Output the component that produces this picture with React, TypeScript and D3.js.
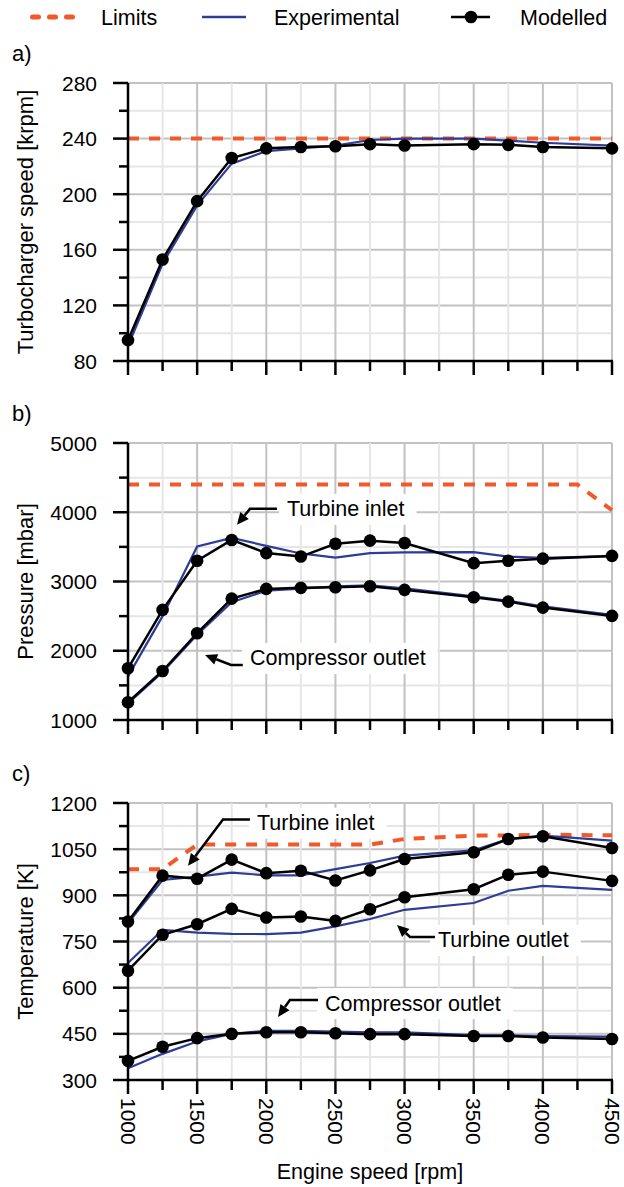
import React from 'react';
import * as d3 from 'd3';

// ---------- DATA ----------
const rpm = [1000, 1250, 1500, 1750, 2000, 2250, 2500, 2750, 3000, 3500, 3750, 4000, 4500];

// a) Turbocharger speed [krpm]
const turboModelled = [95, 153, 195, 226, 233, 234, 234.5, 236, 235, 236, 235.5, 234, 233];
const turboExperimental = [91, 150, 192, 222, 231, 233, 235, 239, 240, 240, 238.5, 237, 235];
const turboLimitRpm = [1000, 4500];
const turboLimit = [240, 240];

// b) Pressure [mbar]
const pTurbineInletModelled = [1747, 2590, 3300, 3600, 3410, 3360, 3545, 3590, 3555, 3265, 3300, 3330, 3370];
const pTurbineInletExperimental = [1630, 2500, 3505, 3630, 3515, 3405, 3345, 3410, 3420, 3425, 3360, 3340, 3365];
const pCompressorOutletModelled = [1256, 1708, 2253, 2753, 2893, 2908, 2918, 2932, 2879, 2773, 2710, 2623, 2503];
const pCompressorOutletExperimental = [1240, 1690, 2230, 2700, 2868, 2895, 2930, 2945, 2900, 2785, 2720, 2640, 2520];
const pLimitRpm = [1000, 4250, 4500];
const pLimit = [4400, 4400, 4030];

// c) Temperature [K]
const tTurbineInletModelled = [815, 964, 954, 1016, 972, 980, 948, 981, 1018, 1040, 1083, 1092, 1054];
const tTurbineInletExperimental = [810, 950, 961, 974, 965, 965, 985, 1005, 1029, 1046, 1083, 1094, 1078];
const tTurbineOutletModelled = [655, 772, 806, 856, 828, 831, 817, 855, 894, 920, 967, 977, 947];
const tTurbineOutletExperimental = [680, 788, 779, 775, 774, 779, 799, 823, 853, 875, 915, 931, 918];
const tCompressorOutletModelled = [362, 408, 436, 450, 455, 455, 452, 449, 449, 443, 443, 438, 433];
const tCompressorOutletExperimental = [338, 385, 425, 450, 460, 460, 457, 455, 455, 446, 445, 443, 441];
const tLimitRpm = [1000, 1250, 1500, 1750, 2000, 2250, 2500, 2750, 3000, 3500, 3750, 4000, 4500];
const tLimit = [985, 985, 1065, 1065, 1065, 1065, 1065, 1065, 1083, 1094, 1094, 1097, 1095];

const xTickValues = [1000, 1250, 1500, 1750, 2000, 2250, 2500, 2750, 3000, 3250, 3500, 3750, 4000, 4250, 4500];
const xTickLabels = ['1000', '1500', '2000', '2500', '3000', '3500', '4000', '4500'];

const legendLabels = ['Limits', 'Experimental', 'Modelled'];

// ---------- STYLE ----------
const W = 624;
const H = 1187;
const FONT = '"Liberation Sans", Arial, Helvetica, sans-serif';
const ORANGE = '#f2592a';
const BLUE = '#2f3c96';
const BLACK = '#000';
const GRID_DARK = '#c2c2c2';
const GRID_LIGHT = '#e6e6e6';

const X_LEFT = 128;
const X_RIGHT = 612;
const x = d3.scaleLinear().domain([1000, 4500]).range([X_LEFT, X_RIGHT]);

type Line = { xs: number[]; ys: number[]; kind: 'limit' | 'exp' | 'mod' };
type Annot = { label: string; text: [number, number]; arrow: [number, number][] };
type Panel = {
  label: string;
  title: string;
  top: number;
  bottom: number;
  domain: [number, number];
  major: number;
  lines: Line[];
  annots: Annot[];
  xLabels: boolean;
};

const panels: Panel[] = [
  {
    label: 'a)',
    title: 'Turbocharger speed [krpm]',
    top: 83,
    bottom: 361,
    domain: [80, 280],
    major: 40,
    lines: [
      { xs: turboLimitRpm, ys: turboLimit, kind: 'limit' },
      { xs: rpm, ys: turboExperimental, kind: 'exp' },
      { xs: rpm, ys: turboModelled, kind: 'mod' },
    ],
    annots: [],
    xLabels: false,
  },
  {
    label: 'b)',
    title: 'Pressure [mbar]',
    top: 443,
    bottom: 720,
    domain: [1000, 5000],
    major: 1000,
    lines: [
      { xs: pLimitRpm, ys: pLimit, kind: 'limit' },
      { xs: rpm, ys: pTurbineInletExperimental, kind: 'exp' },
      { xs: rpm, ys: pCompressorOutletExperimental, kind: 'exp' },
      { xs: rpm, ys: pTurbineInletModelled, kind: 'mod' },
      { xs: rpm, ys: pCompressorOutletModelled, kind: 'mod' },
    ],
    annots: [
      { label: 'Turbine inlet', text: [2150, 4049], arrow: [[2077, 4049], [1882, 4049], [1788, 3818]] },
      { label: 'Compressor outlet', text: [1882, 1896], arrow: [[1830, 1795], [1745, 1795], [1557, 1939]] },
    ],
    xLabels: false,
  },
  {
    label: 'c)',
    title: 'Temperature [K]',
    top: 803,
    bottom: 1080,
    domain: [300, 1200],
    major: 150,
    lines: [
      { xs: tLimitRpm, ys: tLimit, kind: 'limit' },
      { xs: rpm, ys: tTurbineInletExperimental, kind: 'exp' },
      { xs: rpm, ys: tTurbineOutletExperimental, kind: 'exp' },
      { xs: rpm, ys: tCompressorOutletExperimental, kind: 'exp' },
      { xs: rpm, ys: tTurbineInletModelled, kind: 'mod' },
      { xs: rpm, ys: tTurbineOutletModelled, kind: 'mod' },
      { xs: rpm, ys: tCompressorOutletModelled, kind: 'mod' },
    ],
    annots: [
      { label: 'Turbine inlet', text: [1933, 1136], arrow: [[1882, 1146], [1687, 1146], [1434, 996]] },
      { label: 'Turbine outlet', text: [3242, 755], arrow: [[3220, 765], [3039, 765], [2945, 804]] },
      { label: 'Compressor outlet', text: [2425, 550], arrow: [[2374, 560], [2171, 560], [2085, 505]] },
    ],
    xLabels: true,
  },
];

let measureCtx: CanvasRenderingContext2D | null = null;
function textWidth(s: string, size: number) {
  if (!measureCtx) {
    const c = document.createElement('canvas');
    measureCtx = c.getContext('2d');
  }
  if (!measureCtx) return s.length * size * 0.55;
  measureCtx.font = `${size}px "Liberation Sans", Arial, sans-serif`;
  return measureCtx.measureText(s).width;
}

function styleFor(kind: Line['kind']) {
  if (kind === 'limit') return { stroke: ORANGE, strokeWidth: 4, strokeDasharray: '11 10' };
  if (kind === 'exp') return { stroke: BLUE, strokeWidth: 2.2 };
  return { stroke: BLACK, strokeWidth: 2.5 };
}

function PanelView({ p }: { p: Panel }) {
  const y = d3.scaleLinear().domain(p.domain).range([p.bottom, p.top]);
  const minor = p.major / 2;
  const yVals = d3.range(p.domain[0], p.domain[1] + minor / 2, minor);
  const lineGen = (ln: Line) =>
    d3
      .line<number>()
      .x((_, i) => x(ln.xs[i]))
      .y((v) => y(v))(ln.ys) || '';
  const mid = (p.top + p.bottom) / 2;

  return (
    <g>
      {/* grid */}
      {yVals.map((v, i) => (
        <line
          key={'hg' + i}
          x1={X_LEFT}
          x2={X_RIGHT}
          y1={y(v)}
          y2={y(v)}
          stroke={i % 2 === 0 ? GRID_DARK : GRID_LIGHT}
          strokeWidth={2}
        />
      ))}
      {xTickValues.map((v, i) => (
        <line
          key={'vg' + i}
          x1={x(v)}
          x2={x(v)}
          y1={p.top}
          y2={p.bottom}
          stroke={i % 2 === 0 ? GRID_DARK : GRID_LIGHT}
          strokeWidth={2}
        />
      ))}
      {/* annotation boxes */}
      {p.annots.map((a, i) => {
        const tx = x(a.text[0]);
        const ty = y(a.text[1]);
        const w = textWidth(a.label, 21.5);
        return <rect key={'ab' + i} x={tx - 8} y={ty - 15} width={w + 20} height={31} fill="#fff" />;
      })}
      {/* lines */}
      {p.lines.map((ln, i) => (
        <path key={'l' + i} d={lineGen(ln)} fill="none" {...styleFor(ln.kind)} />
      ))}
      {p.lines
        .filter((ln) => ln.kind === 'mod')
        .map((ln, i) =>
          ln.ys.map((v, j) => <circle key={`d${i}-${j}`} cx={x(ln.xs[j])} cy={y(v)} r={6.3} fill={BLACK} />)
        )}
      {/* axes */}
      <line x1={X_LEFT} x2={X_LEFT} y1={p.top} y2={p.bottom} stroke={BLACK} strokeWidth={2.5} />
      <line x1={X_LEFT} x2={X_RIGHT + 1} y1={p.bottom} y2={p.bottom} stroke={BLACK} strokeWidth={2.5} />
      {yVals.map((v, i) => (
        <line
          key={'yt' + i}
          x1={X_LEFT - (i % 2 === 0 ? 15 : 9)}
          x2={X_LEFT}
          y1={y(v)}
          y2={y(v)}
          stroke={BLACK}
          strokeWidth={2.5}
        />
      ))}
      {yVals
        .filter((_, i) => i % 2 === 0)
        .map((v, i) => (
          <text key={'yl' + i} x={97} y={y(v) + 7.5} textAnchor="end" fontSize={21} fontFamily={FONT}>
            {String(v)}
          </text>
        ))}
      {xTickValues.map((v, i) => (
        <line
          key={'xt' + i}
          x1={x(v)}
          x2={x(v)}
          y1={p.bottom}
          y2={p.bottom + (i % 2 === 0 ? 14 : 10)}
          stroke={BLACK}
          strokeWidth={2.5}
        />
      ))}
      {p.xLabels &&
        xTickLabels.map((t, i) => (
          <text
            key={'xl' + i}
            transform={`translate(${x(+t)},${p.bottom + 18}) rotate(90)`}
            textAnchor="start"
            dominantBaseline="central"
            fontSize={21}
            fontFamily={FONT}
          >
            {t}
          </text>
        ))}
      {/* titles */}
      <text
        transform={`translate(33,${mid}) rotate(-90)`}
        textAnchor="middle"
        fontSize={22}
        fontFamily={FONT}
      >
        {p.title}
      </text>
      <text x={12} y={p.top - 22} fontSize={22} fontFamily={FONT}>
        {p.label}
      </text>
      {/* annotations */}
      {p.annots.map((a, i) => {
        const tx = x(a.text[0]);
        const ty = y(a.text[1]);
        const pts = a.arrow.map(([r, v]) => [x(r), y(v)] as [number, number]);
        const tip = pts[pts.length - 1];
        const prev = pts[pts.length - 2];
        const ang = Math.atan2(tip[1] - prev[1], tip[0] - prev[0]);
        const L = 12;
        const hw = 5.5;
        const base: [number, number] = [tip[0] - L * Math.cos(ang), tip[1] - L * Math.sin(ang)];
        const left: [number, number] = [base[0] + hw * Math.sin(ang), base[1] - hw * Math.cos(ang)];
        const right: [number, number] = [base[0] - hw * Math.sin(ang), base[1] + hw * Math.cos(ang)];
        const shaft = [...pts.slice(0, -1), base];
        return (
          <g key={'an' + i}>
            <path d={d3.line()(shaft) || ''} fill="none" stroke={BLACK} strokeWidth={2.5} />
            <path d={`M${tip[0]},${tip[1]}L${left[0]},${left[1]}L${right[0]},${right[1]}Z`} fill={BLACK} />
            <text x={tx} y={ty + 7.5} fontSize={21.5} fontFamily={FONT}>
              {a.label}
            </text>
          </g>
        );
      })}
    </g>
  );
}

export default function App() {
  return (
    <svg
      width={W}
      height={H}
      viewBox={`0 0 ${W} ${H}`}
      style={{ position: 'absolute', left: 0, top: 0, background: '#fff' }}
    >
      <rect x={0} y={0} width={W} height={H} fill="#fff" />
      {/* legend */}
      <g>
        <line x1={32.5} x2={73} y1={17} y2={17} stroke={ORANGE} strokeWidth={5} strokeDasharray="6 11" strokeLinecap="round" />
        <text x={101} y={25} fontSize={21.5} fontFamily={FONT}>
          {legendLabels[0]}
        </text>
        <line x1={202} x2={246} y1={17} y2={17} stroke={BLUE} strokeWidth={2.5} />
        <text x={274} y={25} fontSize={21.5} fontFamily={FONT}>
          {legendLabels[1]}
        </text>
        <line x1={451} x2={490} y1={17} y2={17} stroke={BLACK} strokeWidth={2.5} />
        <circle cx={471} cy={17} r={6.3} fill={BLACK} />
        <text x={520} y={25} fontSize={21.5} fontFamily={FONT}>
          {legendLabels[2]}
        </text>
      </g>
      {panels.map((p, i) => (
        <PanelView key={i} p={p} />
      ))}
      <text x={(X_LEFT + X_RIGHT) / 2} y={1179} textAnchor="middle" fontSize={21.5} fontFamily={FONT}>
        Engine speed [rpm]
      </text>
    </svg>
  );
}
